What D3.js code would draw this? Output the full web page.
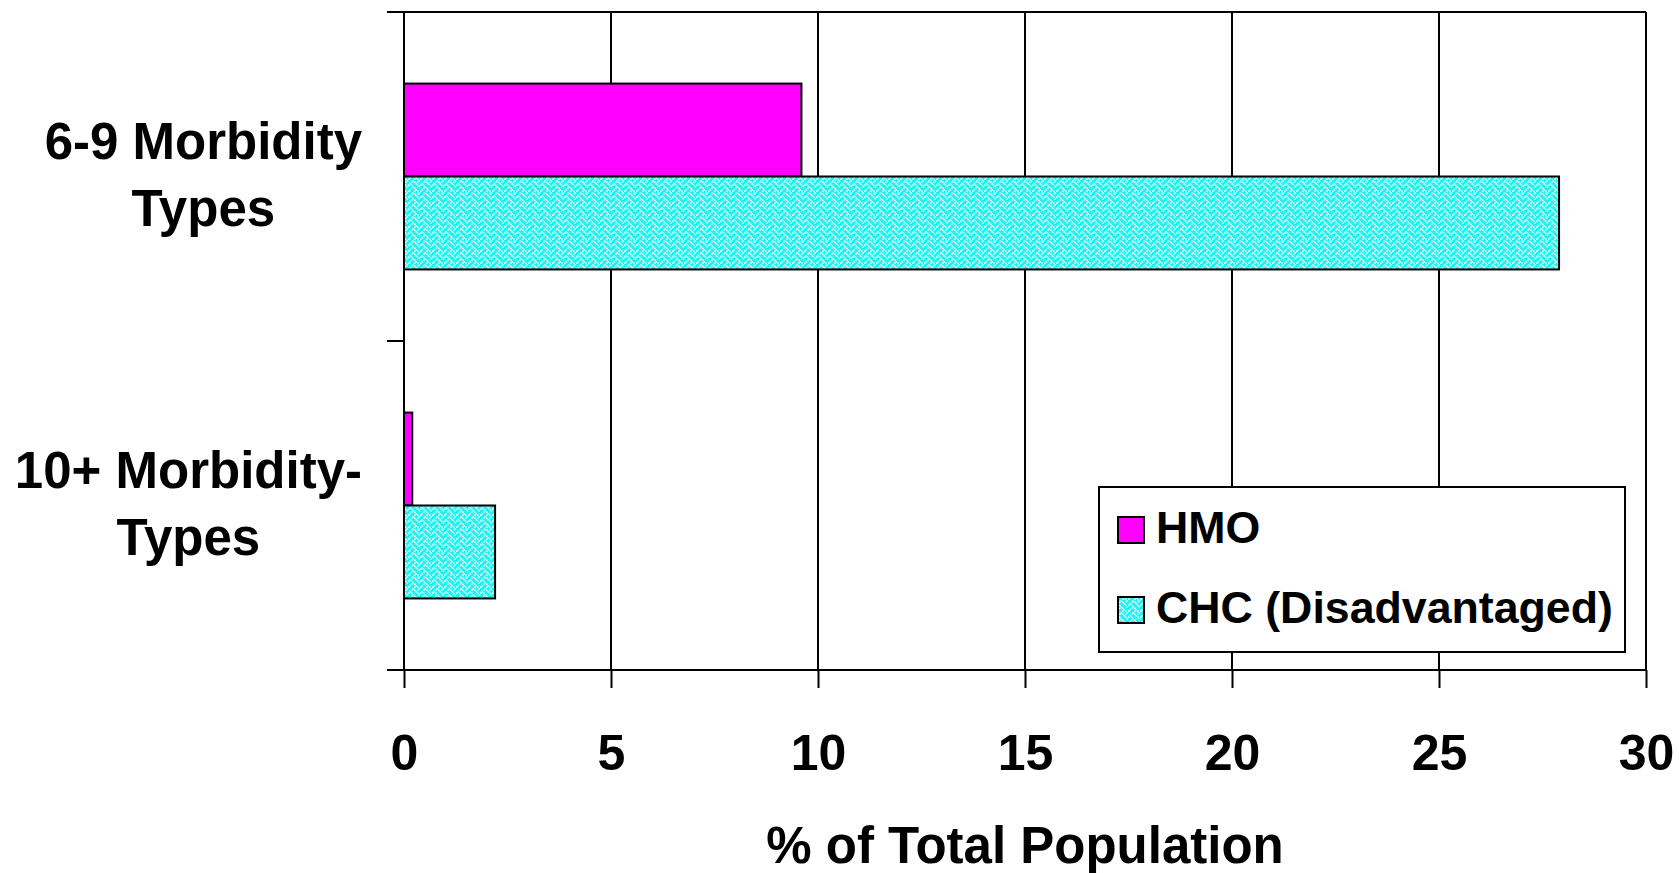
<!DOCTYPE html>
<html><head><meta charset="utf-8">
<script src="https://cdn.jsdelivr.net/npm/d3@7"></script>
<style>
body{margin:0;background:#fff}
svg{display:block}
text{font-family:"Liberation Sans",Arial,sans-serif;font-weight:bold;fill:#000}
</style>
</head><body>
<svg id="c" width="1679" height="873"></svg>
<script>
// ---- data ----
const categories = ["6-9 Morbidity Types", "10+ Morbidity-Types"];
const categoryLines = [["6-9 Morbidity", "Types"], ["10+ Morbidity-", "Types"]];
const seriesNames = ["HMO", "CHC (Disadvantaged)"];
const hmoValues = [9.6, 0.2];
const chcValues = [27.9, 2.2];
const xTicks = [0, 5, 10, 15, 20, 25, 30];
const xTitle = "% of Total Population";

// ---- layout ----
const svg = d3.select("#c");
const L = 404, R = 1646, T = 12, B = 670;
const x = d3.scaleLinear().domain([0, 30]).range([L, R]);
const y = d3.scaleBand().domain(categories).range([T, B]).padding(0);
const ySeries = d3.scaleBand().domain(seriesNames).range([0, y.bandwidth()]).paddingInner(0).paddingOuter(0.77);

// weave pattern
const weave = [0x11, 0x2a, 0x44, 0xa2, 0x11, 0x28, 0x44, 0x8a];
const cell = 1.5;
const defs = svg.append("defs");
const pat = defs.append("pattern").attr("id", "weave").attr("patternUnits", "userSpaceOnUse")
  .attr("width", 8 * cell).attr("height", 8 * cell);
pat.append("rect").attr("width", 8 * cell).attr("height", 8 * cell).attr("fill", "#22f1f1");
weave.forEach((row, r) => {
  for (let c = 0; c < 8; c++) {
    if (row & (0x80 >> c)) {
      pat.append("rect").attr("x", c * cell).attr("y", r * cell).attr("width", cell).attr("height", cell).attr("fill", "#ffffff");
    }
  }
});
const fills = {"HMO": "#ff00ff", "CHC (Disadvantaged)": "url(#weave)"};

// gridlines (vertical)
svg.append("g").selectAll("line").data(xTicks.filter(d => d > 0)).join("line")
  .attr("x1", d => x(d)).attr("x2", d => x(d)).attr("y1", T).attr("y2", B)
  .attr("stroke", "#000").attr("stroke-width", 2);
// top border
svg.append("line").attr("x1", L - 17).attr("x2", R).attr("y1", T).attr("y2", T)
  .attr("stroke", "#000").attr("stroke-width", 2);

// bars
const rows = categories.map((c, i) => ({cat: c, vals: [{s: seriesNames[0], v: hmoValues[i]}, {s: seriesNames[1], v: chcValues[i]}]}));
const g = svg.append("g");
rows.forEach(row => {
  g.selectAll(null).data(row.vals).join("rect")
    .attr("x", x(0))
    .attr("y", d => y(row.cat) + ySeries(d.s))
    .attr("width", d => x(d.v) - x(0))
    .attr("height", ySeries.bandwidth())
    .attr("fill", d => fills[d.s])
    .attr("stroke", "#000").attr("stroke-width", 2);
});

// x axis
const xAxis = d3.axisBottom(x).tickValues(xTicks).tickSizeInner(18).tickSizeOuter(0).tickFormat(d3.format("d"));
const xg = svg.append("g").attr("transform", `translate(0,${B})`).call(xAxis);
xg.select(".domain").attr("d", `M${L - 17},0H${R}`).attr("stroke", "#000").attr("stroke-width", 2);
xg.selectAll(".tick line").attr("stroke", "#000").attr("stroke-width", 2);
xg.selectAll(".tick text").attr("dy", null).attr("y", 100)
  .style("font-size", "50px").style("font-family", '"Liberation Sans",Arial,sans-serif').style("font-weight", "bold").attr("fill", "#000");

// y axis line + ticks at band boundaries
svg.append("line").attr("x1", L).attr("x2", L).attr("y1", T).attr("y2", B).attr("stroke", "#000").attr("stroke-width", 2);
const bounds = categories.map(c => y(c)).concat([B]);
svg.append("g").selectAll("line").data(bounds).join("line")
  .attr("x1", L - 17).attr("x2", L).attr("y1", d => d).attr("y2", d => d)
  .attr("stroke", "#000").attr("stroke-width", 2);

// category labels
categories.forEach((c, i) => {
  const cy = y(c) + y.bandwidth() / 2;
  const t = svg.append("text").attr("text-anchor", "middle").style("font-size", "51px");
  const lines = categoryLines[i];
  const spans = lines.map((ln, k) => t.append("tspan").attr("y", cy - 17.5 + k * 67).text(ln));
  let maxW = 0;
  spans.forEach(s => { maxW = Math.max(maxW, s.node().getComputedTextLength()); });
  const cx = 362 - maxW / 2;
  spans.forEach(s => s.attr("x", cx));
});

// x title
svg.append("text").attr("x", (L + R) / 2).attr("y", 863).attr("text-anchor", "middle")
  .style("font-size", "51px").text(xTitle);

// legend
const lg = svg.append("g");
lg.append("rect").attr("x", 1099).attr("y", 487).attr("width", 526).attr("height", 165)
  .attr("fill", "#fff").attr("stroke", "#000").attr("stroke-width", 2);
seriesNames.forEach((s, i) => {
  const by = 543 + i * 80;
  lg.append("rect").attr("x", 1118).attr("y", by - 26).attr("width", 26).attr("height", 26)
    .attr("fill", fills[s]).attr("stroke", "#000").attr("stroke-width", 2);
  lg.append("text").attr("x", 1156).attr("y", by).style("font-size", "44.7px").text(s);
});
</script>
</body></html>
